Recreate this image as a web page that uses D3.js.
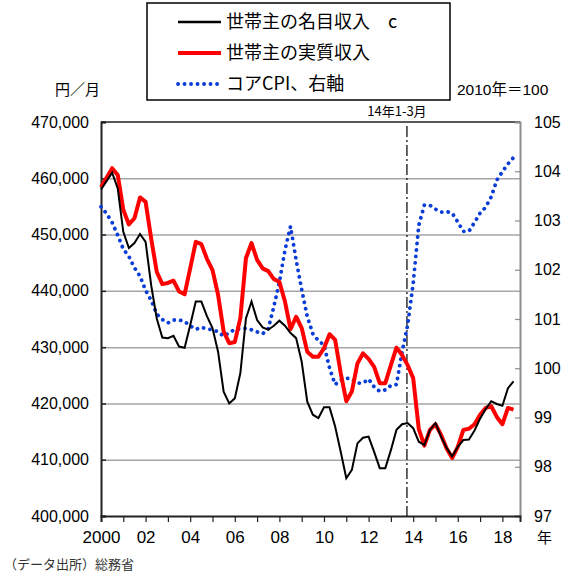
<!DOCTYPE html>
<html>
<head>
<meta charset="utf-8">
<script src="https://cdn.jsdelivr.net/npm/d3@7"></script>
<style>
  body { margin: 0; background: #fff; }
  svg text { font-family: "Liberation Sans", Arial, "Noto Sans CJK JP", sans-serif; }
  .jp { font-family: "Noto Sans CJK JP", sans-serif; }
</style>
</head>
<body>
<div id="chart"></div>
<script>
// quarterly, 2000Q1 .. 2018Q3
const nominal = [
  458000, 459500, 461000, 458200, 450500, 447600, 448500, 450100, 448700, 441000,
  435100, 431700, 431600, 432000, 430100, 429900, 433900, 438100, 438100, 435500,
  433400, 429200, 422100, 420000, 420900, 425400, 435100, 438100, 434800, 433500,
  433100, 433800, 434700, 433800, 432500, 431600, 427400, 420300, 418000, 417400,
  419300, 419300, 415900, 411400, 406700, 408200, 412900, 413900, 414100, 411400,
  408500, 408500, 411700, 415300, 416300, 416500, 415600, 413200, 412600, 415300,
  416500, 414100, 412100, 410600, 412300, 413500, 413600, 415200, 417300, 419000,
  420400, 419900, 419600, 422700, 423900
];
const real = [
  458400, 460100, 461800, 460600, 454400, 451800, 452900, 456600, 455800, 449300,
  443400, 441200, 441400, 441800, 439900, 439400, 444000, 448700, 448300, 445700,
  443700, 439300, 432800, 430700, 430900, 435200, 445800, 448500, 445500, 444000,
  443500, 442100, 441600, 438100, 433200, 435400, 433400, 429200, 428300, 428300,
  429800, 432300, 431300, 425400, 420400, 422100, 427100, 428900, 427900, 426500,
  423600, 423600, 426800, 429900, 428600, 426800, 424500, 415500, 412500, 415300,
  416300, 414400, 412000, 410300, 412300, 415300, 415500, 416300, 418000, 419200,
  419500, 417600, 416300, 419200, 418900
];
const coreCpi = [
  103.28, 103.14, 102.96, 102.70, 102.42, 102.27, 102.04, 101.87, 101.58, 101.38,
  101.10, 100.99, 100.92, 100.98, 100.98, 100.95, 100.86, 100.79, 100.83, 100.80,
  100.78, 100.74, 100.65, 100.72, 100.79, 100.80, 100.81, 100.78, 100.74, 100.70,
  100.80, 101.25, 101.75, 102.40, 102.88, 102.20, 101.60, 101.05, 100.70, 100.56,
  100.47, 100.00, 99.67, 99.76, 99.80, 99.78, 99.70, 99.70, 99.78, 99.62,
  99.53, 99.56, 99.65, 99.67, 100.33, 100.87, 101.72, 102.90, 103.31, 103.31,
  103.23, 103.17, 103.18, 103.15, 102.97, 102.78, 102.78, 102.96, 103.15, 103.27,
  103.48, 103.82, 103.99, 104.15, 104.28
];
const leftTicks = [400000, 410000, 420000, 430000, 440000, 450000, 460000, 470000];
const rightTicks = [97, 98, 99, 100, 101, 102, 103, 104, 105];
const yearTicks = d3.range(0, 19);
const markerYear = 13.72; // 14年1-3月

const W = 587, H = 574;
const m = { left: 101, right: 520, top: 122, bottom: 516 };

const svg = d3.select('#chart').append('svg')
  .attr('width', W).attr('height', H);

const x = d3.scaleLinear().domain([0, 18.79]).range([m.left, m.right]);
const y = d3.scaleLinear().domain([400000, 470000]).range([m.bottom, m.top]);
const yc = d3.scaleLinear().domain([97, 105]).range([m.bottom, m.top]);

// gridlines
svg.append('g')
  .attr('transform', `translate(${m.left},0)`)
  .call(d3.axisLeft(y).tickValues(leftTicks.slice(1, -1)).tickSize(-(m.right - m.left)).tickFormat(''))
  .call(g => g.select('.domain').remove())
  .call(g => g.selectAll('line').attr('stroke', '#a6a6a6').attr('stroke-width', 1.5));

// top border
svg.append('line')
  .attr('x1', m.left).attr('x2', m.right).attr('y1', m.top).attr('y2', m.top)
  .attr('stroke', '#222').attr('stroke-width', 1.5);

// right axis
svg.append('g')
  .attr('transform', `translate(${m.right},0)`)
  .call(d3.axisRight(yc).tickValues(rightTicks).tickSize(-5).tickPadding(14).tickFormat(d3.format('d')))
  .call(g => g.select('.domain').attr('stroke', '#8c8c8c').attr('stroke-width', 2))
  .call(g => g.selectAll('line').attr('stroke', '#8c8c8c').attr('stroke-width', 1.2))
  .call(g => g.selectAll('text').attr('font-size', 16).attr('fill', '#000'));

// left axis
svg.append('g')
  .attr('transform', `translate(${m.left},0)`)
  .call(d3.axisLeft(y).tickValues(leftTicks).tickSize(-5).tickPadding(12).tickFormat(d3.format(',')))
  .call(g => g.select('.domain').attr('stroke', '#222').attr('stroke-width', 2))
  .call(g => g.selectAll('line').attr('stroke', '#222').attr('stroke-width', 1.5))
  .call(g => g.selectAll('text').attr('font-size', 16).attr('fill', '#000'));

// bottom axis
svg.append('g')
  .attr('transform', `translate(0,${m.bottom})`)
  .call(d3.axisBottom(x).tickValues(yearTicks).tickSize(6).tickPadding(9)
    .tickFormat(d => d % 2 ? '' : (d === 0 ? '2000' : String(d).padStart(2, '0'))))
  .call(g => g.select('.domain').attr('stroke', '#222').attr('stroke-width', 2))
  .call(g => g.selectAll('line').attr('stroke', '#222').attr('stroke-width', 1.2))
  .call(g => g.selectAll('text').attr('font-size', 17).attr('fill', '#000'));

// 14年1-3月 marker
svg.append('line')
  .attr('x1', x(markerYear)).attr('x2', x(markerYear))
  .attr('y1', m.top + 4).attr('y2', m.bottom)
  .attr('stroke', '#000').attr('stroke-width', 1.2)
  .attr('stroke-dasharray', '11,3,2,3');
svg.append('text').attr('class', 'jp')
  .attr('x', x(markerYear) - 10).attr('y', 116)
  .attr('text-anchor', 'middle').attr('font-size', 13)
  .text('14年1-3月');

const idx = d3.range(nominal.length);
const lineY = d3.line().x(i => x(i / 4));

svg.append('path')
  .attr('d', lineY.y(i => yc(coreCpi[i]))(idx))
  .attr('fill', 'none').attr('stroke', '#0a3cd8').attr('stroke-width', 3.8)
  .attr('stroke-linecap', 'round').attr('stroke-dasharray', '0.1,6.4');

svg.append('path')
  .attr('d', lineY.y(i => y(real[i]))(idx))
  .attr('fill', 'none').attr('stroke', '#ff0000').attr('stroke-width', 4)
  .attr('stroke-linejoin', 'round');

svg.append('path')
  .attr('d', lineY.y(i => y(nominal[i]))(idx))
  .attr('fill', 'none').attr('stroke', '#000').attr('stroke-width', 2);

// legend
svg.append('rect')
  .attr('x', 147).attr('y', 3).attr('width', 303).attr('height', 97)
  .attr('fill', '#fff').attr('stroke', '#000').attr('stroke-width', 1.5);
const legend = [
  { label: '世帯主の名目収入　c', color: '#000', width: 2.5, dash: null },
  { label: '世帯主の実質収入', color: '#ff0000', width: 4, dash: null },
  { label: 'コアCPI、右軸', color: '#0a3cd8', width: 3.8, dash: '0.1,6.4' }
];
legend.forEach((d, k) => {
  const ly = 22 + k * 31;
  svg.append('line')
    .attr('x1', 178).attr('x2', 221).attr('y1', ly).attr('y2', ly)
    .attr('stroke', d.color).attr('stroke-width', d.width)
    .attr('stroke-linecap', d.dash ? 'round' : 'butt')
    .attr('stroke-dasharray', d.dash);
  svg.append('text').attr('class', 'jp')
    .attr('x', 226).attr('y', ly).attr('dy', '0.35em')
    .attr('font-size', 18).text(d.label);
});

// unit labels
svg.append('text').attr('class', 'jp')
  .attr('x', 55).attr('y', 90).attr('dy', '0.35em').attr('font-size', 15).text('円／月');
svg.append('text')
  .attr('x', 457).attr('y', 90).attr('dy', '0.35em').attr('font-size', 15.5).text('2010年＝100');
svg.append('text').attr('class', 'jp')
  .attr('x', 537).attr('y', 538).attr('dy', '0.35em').attr('font-size', 15).text('年');
svg.append('text').attr('class', 'jp')
  .attr('x', 4).attr('y', 564).attr('dy', '0.35em').attr('font-size', 13)
  .attr('fill', '#333').text('（データ出所）総務省');
</script>
</body>
</html>
